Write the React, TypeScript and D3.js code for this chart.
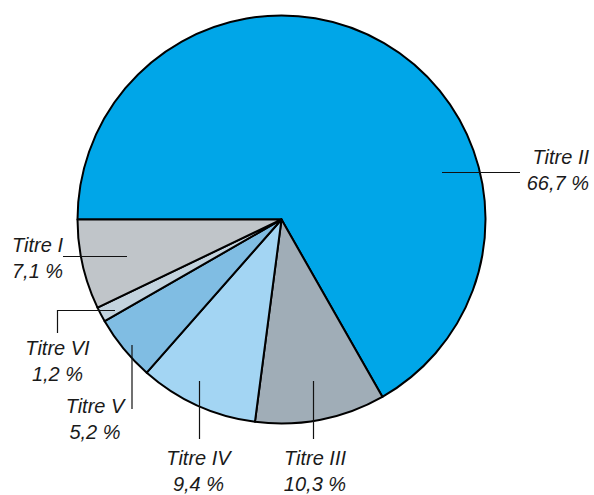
import React from "react";
import * as d3 from "d3";

const categories = ["Titre II", "Titre III", "Titre IV", "Titre V", "Titre VI", "Titre I"];
const values = [66.7, 10.3, 9.4, 5.2, 1.2, 7.1];
const valueLabels = ["66,7 %", "10,3 %", "9,4 %", "5,2 %", "1,2 %", "7,1 %"];
const colors = ["#00a6e8", "#a0adb7", "#a3d5f3", "#80bde3", "#c3d3de", "#c0c5c9"];

type LabelLayout = {
  x: number;
  y: number;
  anchor: "start" | "middle" | "end";
  line: [number, number][];
};

const layouts: LabelLayout[] = [
  { x: 589, y: 164, anchor: "end", line: [[442, 172.5], [520, 172.5]] },
  { x: 315, y: 465, anchor: "middle", line: [[313.5, 381], [313.5, 439]] },
  { x: 198.5, y: 465, anchor: "middle", line: [[199.5, 381], [199.5, 439]] },
  { x: 95, y: 413, anchor: "middle", line: [[132, 345], [132, 409]] },
  { x: 57.5, y: 355, anchor: "middle", line: [[115, 310.5], [57.5, 310.5], [57.5, 333]] },
  { x: 12, y: 252, anchor: "start", line: [[63, 256.5], [127, 256.5]] },
];

const W = 594;
const H = 495;
const cx = 281.5;
const cy = 219.5;
const R = 204;

export default function App() {
  const pie = d3
    .pie<number>()
    .sort(null)
    .startAngle(-Math.PI / 2)
    .endAngle((3 * Math.PI) / 2)
    .value((d) => d);
  const arcs = pie(values);
  const arc = d3.arc<d3.PieArcDatum<number>>().innerRadius(0).outerRadius(R);
  const lineGen = d3.line();

  return (
    <svg
      width={W}
      height={H}
      style={{ position: "absolute", left: 0, top: 0, background: "#ffffff" }}
    >
      <g transform={`translate(${cx},${cy})`}>
        {arcs.map((a, i) => (
          <path
            key={i}
            d={arc(a) || ""}
            fill={colors[i]}
            stroke="#000"
            strokeWidth={2}
            strokeLinejoin="round"
          />
        ))}
      </g>
      {layouts.map((l, i) => (
        <path key={"l" + i} d={lineGen(l.line) || ""} fill="none" stroke="#111" strokeWidth={1.2} />
      ))}
      {layouts.map((l, i) => (
        <text
          key={"t" + i}
          x={l.x}
          y={l.y}
          textAnchor={l.anchor}
          fontFamily="'Liberation Sans', Arial, sans-serif"
          fontStyle="italic"
          fontSize={20}
          fill="#1a1a1a"
        >
          <tspan x={l.x} y={l.y}>
            {categories[i]}
          </tspan>
          <tspan x={l.x} y={l.y + 26}>
            {valueLabels[i]}
          </tspan>
        </text>
      ))}
    </svg>
  );
}
